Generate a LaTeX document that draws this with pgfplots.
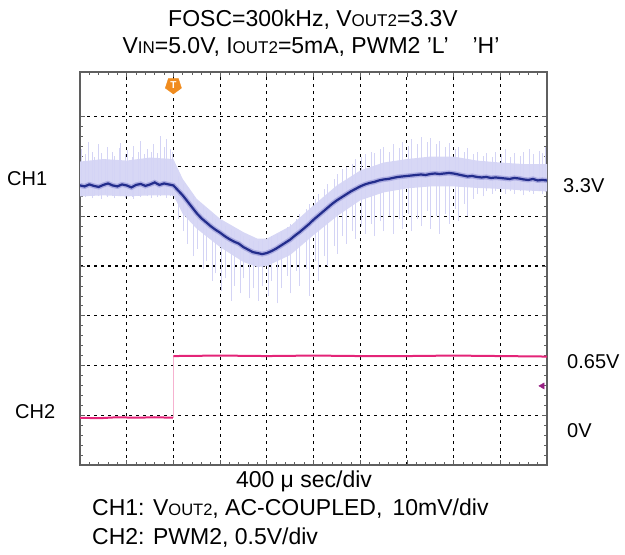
\documentclass[border=0pt]{standalone}
\usepackage{pgfplots}
\usepackage{pgfplotstable}
\pgfplotsset{compat=1.18}
\usepackage{fontspec}
\setmainfont{Liberation Sans}
\definecolor{trace}{RGB}{35,45,140}
\definecolor{band}{RGB}{215,215,245}
\definecolor{bandin}{RGB}{140,140,210}
\definecolor{spike}{RGB}{212,212,245}
\definecolor{pinkc}{RGB}{228,36,120}
\definecolor{trig}{RGB}{240,140,30}
\definecolor{gnd}{RGB}{150,30,130}
\definecolor{framec}{RGB}{95,95,95}
\newcommand{\smT}[1]{{\fontsize{17}{17}\selectfont #1}}
\newcommand{\smB}[1]{{\fontsize{16.5}{17}\selectfont #1}}

\pgfplotstableread{
x y
0.0 5.62
0.1 5.60
0.2 5.64
0.3 5.61
0.4 5.59
0.5 5.63
0.6 5.66
0.7 5.62
0.8 5.60
0.9 5.64
1.0 5.62
1.1 5.58
1.2 5.63
1.3 5.65
1.4 5.61
1.5 5.64
1.6 5.68
1.7 5.63
1.8 5.66
1.9 5.64
2.0 5.62
2.1 5.52
2.2 5.42
2.3 5.30
2.4 5.18
2.5 5.06
2.6 4.96
2.7 4.88
2.8 4.80
2.9 4.73
3.0 4.67
3.1 4.60
3.2 4.54
3.3 4.49
3.4 4.45
3.5 4.38
3.6 4.33
3.7 4.28
3.8 4.26
3.9 4.24
4.0 4.26
4.1 4.30
4.2 4.35
4.3 4.41
4.4 4.47
4.5 4.53
4.6 4.61
4.7 4.68
4.8 4.76
4.9 4.84
5.0 4.93
5.1 5.01
5.2 5.09
5.3 5.17
5.4 5.25
5.5 5.32
5.6 5.38
5.7 5.44
5.8 5.50
5.9 5.55
6.0 5.60
6.1 5.64
6.2 5.67
6.3 5.69
6.4 5.72
6.5 5.74
6.6 5.75
6.7 5.77
6.8 5.79
6.9 5.80
7.0 5.81
7.1 5.82
7.2 5.83
7.3 5.84
7.4 5.83
7.5 5.85
7.6 5.86
7.7 5.85
7.8 5.86
7.9 5.87
8.0 5.86
8.1 5.84
8.2 5.82
8.3 5.80
8.4 5.81
8.5 5.79
8.6 5.78
8.7 5.79
8.8 5.77
8.9 5.78
9.0 5.77
9.1 5.76
9.2 5.75
9.3 5.77
9.4 5.76
9.5 5.74
9.6 5.73
9.7 5.75
9.8 5.72
9.9 5.73
10.0 5.72
}\chone

\pgfplotstableread{
x lo hi
0.03 5.40 6.35
0.12 5.38 6.25
0.17 5.45 6.50
0.27 5.36 6.30
0.31 5.42 6.20
0.40 5.40 6.45
0.45 5.35 6.28
0.55 5.44 6.15
0.59 5.38 6.40
0.69 5.40 6.30
0.73 5.36 6.22
0.83 5.42 6.38
0.87 5.40 6.48
0.97 5.37 6.25
1.01 5.44 6.33
1.11 5.39 6.20
1.15 5.35 6.42
1.25 5.41 6.30
1.29 5.38 6.52
1.38 5.44 6.26
1.43 5.40 6.35
1.53 5.36 6.30
1.57 5.42 6.45
1.66 5.38 6.28
1.71 5.40 6.62
1.80 5.43 6.40
1.85 5.37 6.55
1.93 5.41 6.35
1.98 5.40 6.30
2.10 4.95 5.80
2.22 4.70 5.65
2.30 4.45 5.50
2.43 4.20 5.40
2.50 4.35 5.30
2.64 3.95 5.20
2.70 4.10 5.10
2.84 3.70 5.05
2.90 3.85 4.95
3.03 3.50 4.90
3.10 3.75 4.80
3.24 3.30 4.75
3.30 3.60 4.70
3.44 3.45 4.65
3.50 3.75 4.60
3.63 3.35 4.55
3.70 3.55 4.50
3.82 3.30 4.50
3.90 3.60 4.55
4.03 3.40 4.55
4.10 3.70 4.60
4.22 3.25 4.65
4.30 3.55 4.70
4.43 3.80 4.78
4.50 3.45 4.85
4.62 3.90 4.95
4.70 3.60 5.05
4.84 3.95 5.15
4.90 3.40 5.25
5.03 4.10 5.35
5.10 3.70 5.45
5.23 4.20 5.55
5.30 4.00 5.65
5.44 4.40 5.75
5.50 4.25 5.85
5.62 4.60 5.95
5.70 4.45 6.00
5.83 4.70 6.05
5.90 4.55 6.15
6.03 4.80 6.20
6.10 4.65 6.25
6.24 4.85 6.30
6.30 4.60 6.28
6.43 4.90 6.35
6.50 4.70 6.40
6.62 5.00 6.30
6.70 4.65 6.45
6.84 4.95 6.38
6.90 4.75 6.50
7.02 5.05 6.42
7.10 4.70 6.55
7.23 4.95 6.45
7.30 4.80 6.60
7.44 5.10 6.50
7.50 4.75 6.58
7.63 5.00 6.45
7.70 4.65 6.52
7.82 5.05 6.40
7.90 4.85 6.48
8.04 5.15 6.35
8.10 4.90 6.40
8.22 5.25 6.30
8.30 5.00 6.38
8.43 5.35 6.25
8.50 5.45 6.30
8.63 5.40 6.22
8.70 5.50 6.28
8.82 5.45 6.20
8.90 5.50 6.30
9.03 5.48 6.25
9.10 5.45 6.35
9.22 5.50 6.20
9.30 5.45 6.28
9.43 5.50 6.22
9.50 5.42 6.30
9.62 5.48 6.35
9.70 5.45 6.25
9.83 5.50 6.32
9.90 5.45 6.28
9.97 5.48 6.40
}\spikes

\begin{document}
\begin{tikzpicture}[x=1pt,y=1pt]
\useasboundingbox (0,0) rectangle (625,-555);
\begin{axis}[
  at={(80pt,-465pt)}, anchor=south west,
  scale only axis, width=467pt, height=393pt,
  xmin=0, xmax=10, ymin=0, ymax=7.9,
  xtick={0,...,10}, ytick={0,...,7},
  xticklabels={}, yticklabels={},
  minor x tick num=4, minor y tick num=4,
  tick align=inside, major tick length=5pt, minor tick length=3pt,
  xmajorgrids=true, ymajorgrids=true,
  every axis grid/.style={black, line width=1.1pt, dash pattern=on 3pt off 4pt},
  every major grid/.style={black, line width=1.1pt, dash pattern=on 3pt off 4pt},
  every major tick/.append style={framec, line width=0.8pt},
  every minor tick/.append style={framec, line width=0.7pt},
  axis line style={framec, line width=1.3pt},
]
% CH1 noise envelope
\addplot[fill=band, draw=none] coordinates {
(0,6.1)(0.5,6.15)(1,6.12)(1.5,6.18)(2,6.15)(2.2,5.75)(2.5,5.35)(3,4.95)(3.5,4.68)(3.8,4.55)(4,4.55)(4.5,4.8)(5,5.22)(5.5,5.62)(6,5.92)(6.5,6.08)(7,6.15)(7.5,6.2)(8,6.2)(8.5,6.12)(9,6.08)(9.5,6.05)(10,6.05)
(10,5.5)(9.5,5.52)(9,5.55)(8.5,5.57)(8,5.6)(7.5,5.6)(7,5.56)(6.5,5.48)(6,5.32)(5.5,5.0)(5,4.62)(4.5,4.22)(4,4.0)(3.8,3.98)(3.5,4.08)(3,4.38)(2.5,4.75)(2.2,5.05)(2,5.42)(1.5,5.42)(1,5.4)(0.5,5.42)(0,5.4)
};
% CH1 spikes
\addplot[draw=none, forget plot, error bars/.cd, y dir=plus, y explicit, error mark=none,
  error bar style={draw=spike, line width=0.5pt}]
  table[x=x, y=lo, y error expr=\thisrow{hi}-\thisrow{lo}] {\spikes};
% CH1 trace
\addplot[bandin, line width=5pt, opacity=0.55] table[x=x,y=y] {\chone};
\addplot[trace, line width=2.2pt] table[x=x,y=y] {\chone};
% CH2
\addplot[pinkc!35, line width=0.6pt] coordinates {(2.0,0.95)(2.0,2.19)};
\addplot[pinkc, line width=2pt] coordinates {(0,0.95)(0.4,0.94)(0.8,0.96)(1.2,0.95)(1.6,0.96)(1.99,0.95)};
\addplot[pinkc, line width=2pt] coordinates {(2.0,2.19)(3,2.20)(4,2.19)(5,2.20)(6,2.19)(7,2.19)(8,2.20)(9,2.19)(10,2.18)};
% trigger marker
\addplot[only marks, mark=pentagon*, mark size=8.5pt, color=trig, mark options={rotate=180},
  nodes near coords={\textbf{T}}, every node near coord/.style={anchor=center, text=white, font=\fontsize{10}{10}\selectfont\bfseries}]
  coordinates {(2.0,7.63)};
% ground marker CH2
\addplot[only marks, mark=triangle*, mark size=3.5pt, color=gnd, mark options={rotate=90}]
  coordinates {(9.9,1.59)};
\end{axis}
% texts
\node[anchor=base, inner sep=0, font=\fontsize{23}{27}\selectfont] at (313,-26) {FOSC=300kHz, V\smT{OUT2}=3.3V};
\node[anchor=base, inner sep=0, font=\fontsize{23}{27}\selectfont] at (311,-53) {V\smT{IN}=5.0V, I\smT{OUT2}=5mA, PWM2 ’L’\hspace*{24pt}’H’};
\node[anchor=base, inner sep=0, font=\fontsize{23}{27}\selectfont] at (304,-487) {400 μ sec/div};
\node[anchor=base west, inner sep=0, font=\fontsize{23}{27}\selectfont] at (92,-515) {CH1: V\smB{OUT2}, AC-COUPLED,\, 10mV/div};
\node[anchor=base west, inner sep=0, font=\fontsize{23}{27}\selectfont] at (92,-544) {CH2: PWM2, 0.5V/div};
\node[anchor=base west, inner sep=0, font=\fontsize{20}{24}\selectfont] at (7,-185) {CH1};
\node[anchor=base west, inner sep=0, font=\fontsize{20}{24}\selectfont] at (15,-418) {CH2};
\node[anchor=base west, inner sep=0, font=\fontsize{20}{24}\selectfont] at (563,-192) {3.3V};
\node[anchor=base west, inner sep=0, font=\fontsize{20}{24}\selectfont] at (567,-368) {0.65V};
\node[anchor=base west, inner sep=0, font=\fontsize{20}{24}\selectfont] at (567,-437) {0V};
\end{tikzpicture}
\end{document}
